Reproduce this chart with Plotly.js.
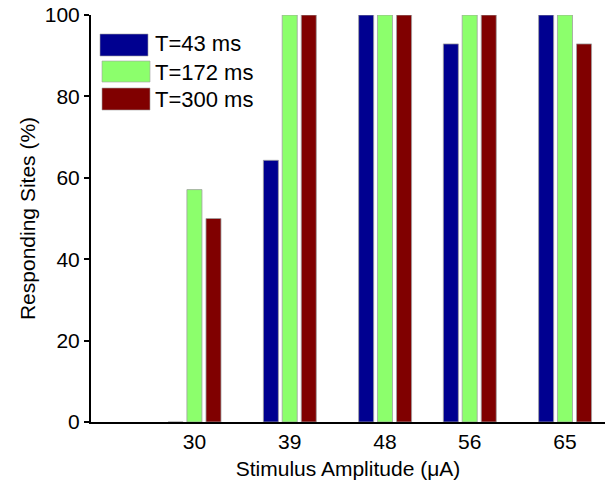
<!DOCTYPE html>
<html>
<head>
<meta charset="utf-8">
<script src="https://cdn.plot.ly/plotly-3.0.1.min.js"></script>
<style>html,body{margin:0;padding:0;background:#fff;}#chart{width:608px;height:486px;}</style>
</head>
<body>
<div id="chart"></div>
<script>
// Data
const amplitudes = [30, 39, 48, 56, 65];
const seriesNames = ["T=43 ms", "T=172 ms", "T=300 ms"];
const t43 = [0, 64.3, 100, 92.9, 100];
const t172 = [57.1, 100, 100, 100, 100];
const t300 = [50, 100, 100, 100, 92.9];
const yTicks = [0, 20, 40, 60, 80, 100];

const colors = ["#000090", "#8cff6c", "#800000"];
const seriesValues = [t43, t172, t300];
const offsets = [-2.49, -0.71, 1.09];
const barWidth = 1.42;

const FONT = "Liberation Sans, Arial, sans-serif";

const traces = seriesValues.map((vals, i) => ({
  type: "bar",
  x: amplitudes,
  y: vals,
  name: seriesNames[i],
  width: barWidth,
  offset: offsets[i],
  marker: {color: colors[i], line: {color: "rgba(160,160,160,0.8)", width: 1}},
  showlegend: false,
  hoverinfo: "x+y+name"
}));

// Legend drawn as shapes + annotations (large swatches)
const L = 91, T = 15, W = 514, H = 407;
const px = v => (v - L) / W;
const py = v => (T + H - v) / H;
const legendBoxes = [
  {x0: 100, x1: 148, y0: 34, y1: 56, ty: 44},
  {x0: 102, x1: 150, y0: 61, y1: 82, ty: 72},
  {x0: 102, x1: 150, y0: 88, y1: 110, ty: 99}
];
const shapes = legendBoxes.map((b, i) => ({
  type: "rect", xref: "paper", yref: "paper",
  x0: px(b.x0), x1: px(b.x1), y0: py(b.y1), y1: py(b.y0),
  fillcolor: colors[i], line: {color: "rgba(160,160,160,0.6)", width: 1}
}));
const annotations = legendBoxes.map((b, i) => ({
  xref: "paper", yref: "paper", x: px(153), y: py(b.ty),
  xanchor: "left", yanchor: "middle", showarrow: false,
  text: seriesNames[i], font: {family: FONT, size: 22, color: "#000"}
}));

const layout = {
  width: 608, height: 486,
  margin: {l: 91, r: 3, t: 15, b: 64, pad: 0},
  paper_bgcolor: "#fff", plot_bgcolor: "#fff",
  barmode: "overlay",
  font: {family: FONT, size: 22, color: "#000"},
  xaxis: {
    range: [20.23, 68.78],
    tickmode: "array", tickvals: amplitudes, ticktext: amplitudes.map(String),
    ticks: "", showgrid: false, zeroline: false,
    showline: true, linecolor: "#000", linewidth: 2,
    tickfont: {family: FONT, size: 21, color: "#000"},
    title: {text: "Stimulus Amplitude (μA)", font: {family: FONT, size: 21, color: "#000"}, standoff: 9}
  },
  yaxis: {
    range: [0, 100],
    tickmode: "array", tickvals: yTicks,
    ticks: "outside", ticklen: 5, tickwidth: 2, tickcolor: "#000",
    showgrid: false, zeroline: false,
    showline: true, linecolor: "#000", linewidth: 2,
    tickfont: {family: FONT, size: 21, color: "#000"},
    title: {text: "Responding Sites (%)", font: {family: FONT, size: 21, color: "#000"}, standoff: 3}
  },
  shapes: shapes,
  annotations: annotations,
  showlegend: false
};

Plotly.newPlot("chart", traces, layout, {displayModeBar: false, staticPlot: true});
</script>
</body>
</html>
